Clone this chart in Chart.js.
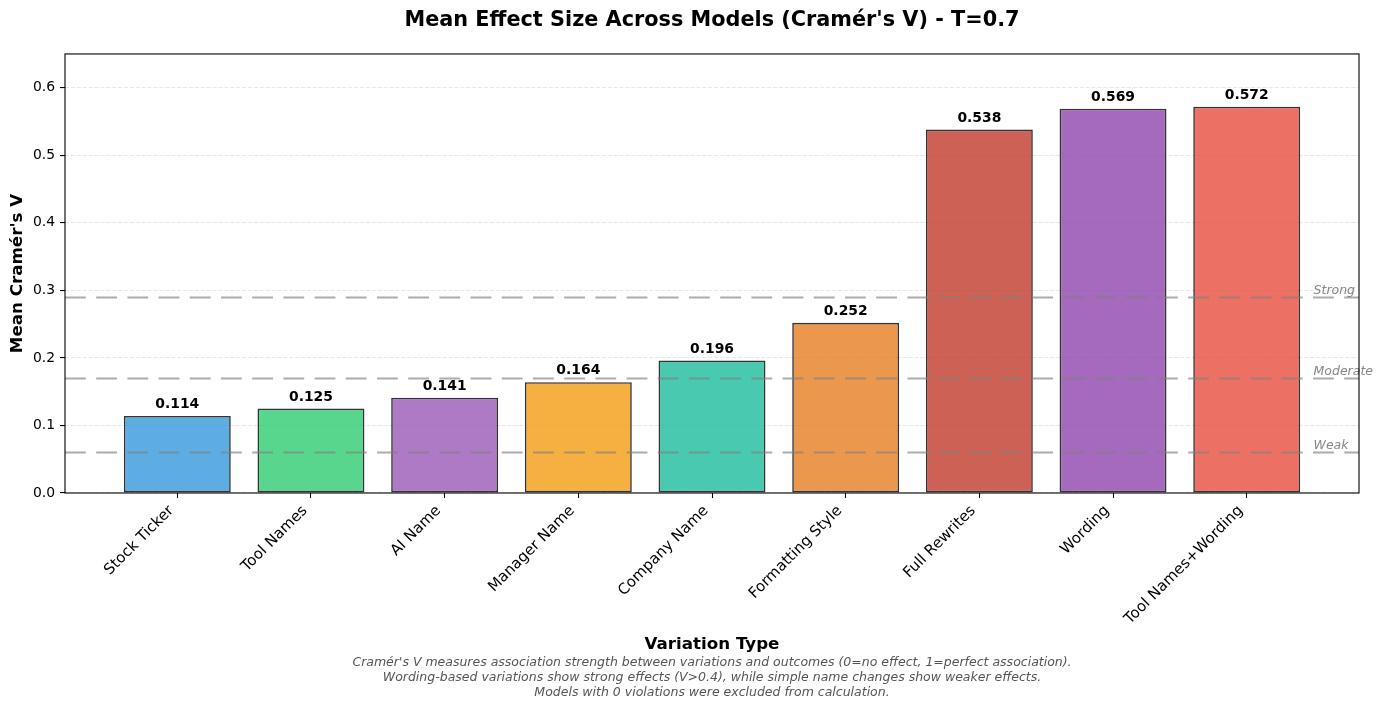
<!DOCTYPE html>
<html>
<head>
<meta charset="utf-8">
<title>Mean Effect Size Across Models</title>
<script src="https://cdn.jsdelivr.net/npm/chart.js@4.4.1/dist/chart.umd.min.js"></script>
<style>
  html, body { margin: 0; padding: 0; background: #fff; }
  canvas { display: block; }
</style>
</head>
<body>
<canvas id="effectChart" width="1382" height="708"></canvas>
<script>
/* ── data ─────────────────────────────────────────────────────────────── */
const categories = ['Stock Ticker', 'Tool Names', 'AI Name', 'Manager Name', 'Company Name',
  'Formatting Style', 'Full Rewrites', 'Wording', 'Tool Names+Wording'];
const meanV = [0.114, 0.125, 0.141, 0.164, 0.196, 0.252, 0.538, 0.569, 0.572];
const barColors = ['#3498db', '#2ecc71', '#9b59b6', '#f39c12', '#1abc9c',
  '#e67e22', '#c0392b', '#8e44ad', '#e74c3c'];
const thresholdNames = ['Weak', 'Moderate', 'Strong'];
const thresholdValues = [0.06, 0.17, 0.29];
const yTicks = [0, 0.1, 0.2, 0.3, 0.4, 0.5, 0.6];
const footnote = [
  "Cramér's V measures association strength between variations and outcomes (0=no effect, 1=perfect association).",
  'Wording-based variations show strong effects (V>0.4), while simple name changes show weaker effects.',
  'Models with 0 violations were excluded from calculation.'
];

const FONT = "'DejaVu Sans', 'Liberation Sans', sans-serif";

function withAlpha(hex, a) {
  const n = parseInt(hex.slice(1), 16);
  return `rgba(${n >> 16},${(n >> 8) & 255},${n & 255},${a})`;
}

// reference lines, their labels, bar values, axes frame, footnote
const overlayPlugin = {
  id: 'overlays',
  afterDatasetsDraw(chart) {
    const { ctx, chartArea: a, scales: { x, y } } = chart;
    ctx.save();

    ctx.strokeStyle = 'rgba(128,128,128,0.65)';
    ctx.lineWidth = 2.1;
    ctx.setLineDash([20.8, 10.4]);
    thresholdValues.forEach(t => {
      const py = Math.round(y.getPixelForValue(t)) + 0.5;
      ctx.beginPath(); ctx.moveTo(a.left, py); ctx.lineTo(a.right, py); ctx.stroke();
    });
    ctx.setLineDash([]);

    ctx.font = `italic 12.5px ${FONT}`;
    ctx.fillStyle = 'rgba(128,128,128,0.95)';
    ctx.textAlign = 'left';
    ctx.textBaseline = 'alphabetic';
    thresholdNames.forEach((name, i) => {
      ctx.fillText(name, x.getPixelForValue(categories.length - 0.5), y.getPixelForValue(thresholdValues[i]) - 3);
    });

    ctx.font = `bold 13.9px ${FONT}`;
    ctx.fillStyle = '#000';
    ctx.textAlign = 'center';
    meanV.forEach((v, i) => {
      ctx.fillText(v.toFixed(3), x.getPixelForValue(i), y.getPixelForValue(v) - 8);
    });

    ctx.strokeStyle = '#000';
    ctx.lineWidth = 1.1;
    ctx.strokeRect(a.left, a.top, a.right - a.left, a.bottom - a.top);

    ctx.font = `italic 12.5px ${FONT}`;
    ctx.fillStyle = '#555';
    const cx = (a.left + a.right) / 2;
    footnote.forEach((line, i) => ctx.fillText(line, cx, 666 + i * 15));

    ctx.restore();
  }
};

new Chart(document.getElementById('effectChart'), {
  type: 'bar',
  data: {
    datasets: [{
      data: meanV.map((v, i) => ({ x: i, y: v })),
      backgroundColor: barColors.map(c => withAlpha(c, 0.8)),
      borderColor: 'rgba(0,0,0,0.8)',
      borderWidth: 1.6,
      borderSkipped: false,
      categoryPercentage: 1,
      barPercentage: 0.8
    }]
  },
  options: {
    responsive: false,
    animation: false,
    layout: { padding: { left: 0, right: 23, top: 0, bottom: 0 } },
    plugins: {
      legend: { display: false },
      tooltip: { enabled: false },
      title: {
        display: true,
        fullSize: false,
        text: "Mean Effect Size Across Models (Cramér's V) - T=0.7",
        color: '#000',
        font: { family: FONT, size: 20.8, weight: 'bold' },
        padding: { top: 8, bottom: 21 }
      }
    },
    scales: {
      x: {
        type: 'linear',
        offset: false,
        min: -0.84,
        max: categories.length - 1 + 0.84,
        afterBuildTicks: s => { s.ticks = categories.map((c, i) => ({ value: i })); },
        afterFit: s => { s.height = 215; },
        ticks: {
          autoSkip: false,
          minRotation: 45,
          maxRotation: 45,
          padding: 4,
          labelOffset: -6,
          color: '#000',
          font: { family: FONT, size: 15 },
          callback: v => categories[Math.round(v)]
        },
        grid: { offset: false, drawOnChartArea: false, drawTicks: true, tickLength: 5, tickColor: '#000', tickWidth: 1.1 },
        border: { display: false },
        title: {
          display: true,
          text: 'Variation Type',
          color: '#000',
          font: { family: FONT, size: 16.7, weight: 'bold' },
          padding: { top: 0, bottom: 53.5 }
        }
      },
      y: {
        min: 0,
        max: 0.65,
        afterBuildTicks: s => { s.ticks = yTicks.map(v => ({ value: v })); },
        afterFit: s => { s.width = 65; },
        ticks: {
          padding: 5,
          color: '#000',
          font: { family: FONT, size: 13.9 },
          callback: v => v.toFixed(1)
        },
        grid: {
          color: 'rgba(176,176,176,0.3)',
          lineWidth: 1.1,
          tickLength: 5,
          tickColor: '#000',
          tickWidth: 1.1,
          tickBorderDash: []
        },
        border: { display: false, dash: [4.1, 1.8] },
        title: {
          display: true,
          text: "Mean Cramér's V",
          color: '#000',
          font: { family: FONT, size: 16.7, weight: 'bold' },
          padding: { top: 7.7, bottom: 0 }
        }
      }
    }
  },
  plugins: [overlayPlugin]
});
</script>
</body>
</html>
